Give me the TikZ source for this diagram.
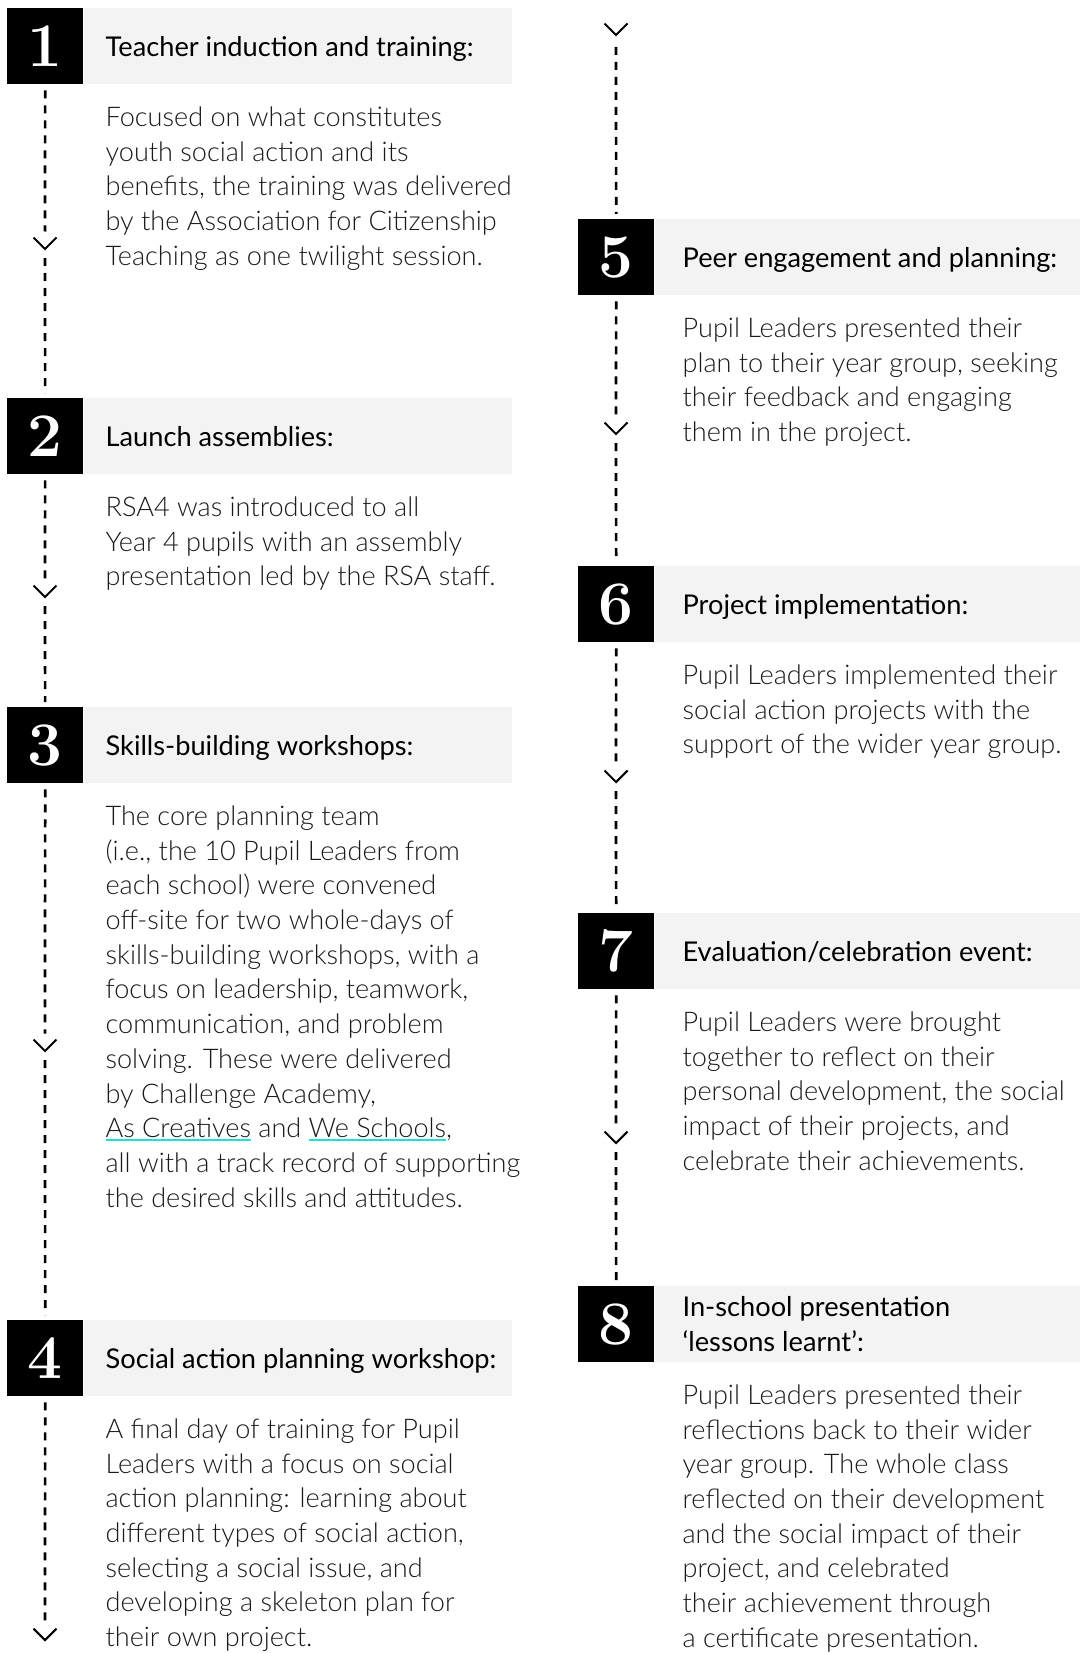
\documentclass[tikz,border=0pt]{standalone}
\usepackage{fontspec}
\IfFontExistsTF{Lato Light}{\newfontfamily\bodyfamily{Lato Light}}{\newfontfamily\bodyfamily{Lato}}
\newfontfamily\headfamily{Lato}
\newfontfamily\numfamily{Latin Modern Roman}
\definecolor{bandgray}{RGB}{243,243,243}
\definecolor{linkcyan}{RGB}{24,228,214}
\definecolor{ink}{RGB}{26,26,26}

% size each face so that a sample line runs to the intended width
\newlength\probewd
\settowidth\probewd{\bodyfamily\fontsize{10pt}{12pt}\selectfont benefits, the training was delivered}
\pgfmathsetmacro\bodysize{4060/\probewd}
\settowidth\probewd{\headfamily\fontsize{10pt}{12pt}\selectfont Teacher induction and training:}
\pgfmathsetmacro\headsize{3680/\probewd}

% organisation names with a coloured underline
\newcommand\weblink[1]{\begingroup\setbox0\hbox{#1}\rlap{\color{linkcyan}\rule[-3.5pt]{\wd0}{2pt}}\box0\endgroup}

\begin{document}
\begin{tikzpicture}[x=1pt,y=-1pt,
  numbox/.style={fill=black, text=white, minimum width=76pt, minimum height=76pt,
    inner sep=0pt, anchor=north west, font=\numfamily\bfseries\fontsize{62pt}{62pt}\selectfont},
  band/.style={fill=bandgray, minimum height=76pt, inner sep=0pt, anchor=north west},
  leftband/.style={band, minimum width=428pt},
  rightband/.style={band, minimum width=425pt},
  head/.style={anchor=base west, inner sep=0pt, text=black,
    font=\headfamily\fontsize{\headsize pt}{35pt}\selectfont},
  body/.style={anchor=base west, inner sep=0pt, text=ink,
    font=\bodyfamily\fontsize{\bodysize pt}{34.7pt}\selectfont},
  flow/.style={line width=2.7pt, dash pattern=on 8pt off 7pt},
  chevron/.style={line width=2.1pt, line join=miter},
  chev/.pic={\draw[chevron] (-11.5,-11.5) -- (0,0) -- (11.5,-11.5);},
]
\fill[white] (0,0) rectangle (1079,1653);
\useasboundingbox (0,0) rectangle (1079,1653);

% ---------- left column ----------
\node[numbox] (n1) at (7,8) {1};
\node[leftband] (b1) at (n1.north east) {};
\node[head] (t1) at ([xshift=22pt,yshift=-10.5pt]b1.west) {Teacher induction and training:};
\node[body] (d1) at ([xshift=22pt,yshift=-42pt]b1.south west) {\parbox[t]{460pt}{%
Focused on what constitutes\\
youth social action and its\\
benefits, the training was delivered\\
by the Association for Citizenship\\
Teaching as one twilight session.}};

\node[numbox] (n2) at (7,398) {2};
\node[leftband] (b2) at (n2.north east) {};
\node[head] (t2) at ([xshift=22pt,yshift=-10.5pt]b2.west) {Launch assemblies:};
\node[body] (d2) at ([xshift=22pt,yshift=-42pt]b2.south west) {\parbox[t]{460pt}{%
RSA4 was introduced to all\\
Year 4 pupils with an assembly\\
presentation led by the RSA staff.}};

\node[numbox] (n3) at (7,707) {3};
\node[leftband] (b3) at (n3.north east) {};
\node[head] (t3) at ([xshift=22pt,yshift=-10.5pt]b3.west) {Skills-building workshops:};
\node[body] (d3) at ([xshift=22pt,yshift=-42pt]b3.south west) {\parbox[t]{460pt}{%
The core planning team\\
(i.e., the 10 Pupil Leaders from\\
each school) were convened\\
off-site for two whole-days of\\
skills-building workshops, with a\\
focus on leadership, teamwork,\\
communication, and problem\\
solving. These were delivered\\
by Challenge Academy,\\
\weblink{As Creatives} and \weblink{We Schools},\\
all with a track record of supporting\\
the desired skills and attitudes.}};

\node[numbox] (n4) at (7,1320) {4};
\node[leftband] (b4) at (n4.north east) {};
\node[head] (t4) at ([xshift=22pt,yshift=-10.5pt]b4.west) {Social action planning workshop:};
\node[body] (d4) at ([xshift=22pt,yshift=-42pt]b4.south west) {\parbox[t]{460pt}{%
A final day of training for Pupil\\
Leaders with a focus on social\\
action planning: learning about\\
different types of social action,\\
selecting a social issue, and\\
developing a skeleton plan for\\
their own project.}};

% ---------- right column ----------
\node[numbox] (n5) at (578,219) {5};
\node[rightband] (b5) at (n5.north east) {};
\node[head] (t5) at ([xshift=28pt,yshift=-10.5pt]b5.west) {Peer engagement and planning:};
\node[body] (d5) at ([xshift=28pt,yshift=-42pt]b5.south west) {\parbox[t]{460pt}{%
Pupil Leaders presented their\\
plan to their year group, seeking\\
their feedback and engaging\\
them in the project.}};

\node[numbox] (n6) at (578,566) {6};
\node[rightband] (b6) at (n6.north east) {};
\node[head] (t6) at ([xshift=28pt,yshift=-10.5pt]b6.west) {Project implementation:};
\node[body] (d6) at ([xshift=28pt,yshift=-42pt]b6.south west) {\parbox[t]{460pt}{%
Pupil Leaders implemented their\\
social action projects with the\\
support of the wider year group.}};

\node[numbox] (n7) at (578,913) {7};
\node[rightband] (b7) at (n7.north east) {};
\node[head] (t7) at ([xshift=28pt,yshift=-10.5pt]b7.west) {Evaluation/celebration event:};
\node[body] (d7) at ([xshift=28pt,yshift=-42pt]b7.south west) {\parbox[t]{460pt}{%
Pupil Leaders were brought\\
together to reflect on their\\
personal development, the social\\
impact of their projects, and\\
celebrate their achievements.}};

\node[numbox] (n8) at (578,1286) {8};
\node[rightband] (b8) at (n8.north east) {};
\node[head] (t8) at ([xshift=28pt,yshift=8pt]b8.west) {\parbox[t]{400pt}{%
In-school presentation\\
‘lessons learnt’:}};
\node[body] (d8) at ([xshift=28pt,yshift=-42pt]b8.south west) {\parbox[t]{460pt}{%
Pupil Leaders presented their\\
reflections back to their wider\\
year group. The whole class\\
reflected on their development\\
and the social impact of their\\
project, and celebrated\\
their achievement through\\
a certificate presentation.}};

% ---------- chevrons on the time lines ----------
\coordinate (k1) at (45,249);
\coordinate (k2) at (45,597);
\coordinate (k3) at (45,1051);
\coordinate (k4) at (45,1640);
\coordinate (k0) at (616,35);
\coordinate (k5) at (616,434);
\coordinate (k6) at (616,782);
\coordinate (k7) at (616,1143);
\foreach \k in {k0,k1,k2,k3,k4,k5,k6,k7} \pic at (\k) {chev};

% ---------- dashed time lines ----------
\draw[flow, shorten <=6pt, shorten >=17.5pt] (n1) -- (k1);
\draw[flow, shorten <=9pt, shorten >=5pt] (k1) -- (n2);
\draw[flow, shorten <=6pt, shorten >=17.5pt] (n2) -- (k2);
\draw[flow, shorten <=9pt, shorten >=5pt] (k2) -- (n3);
\draw[flow, shorten <=6pt, shorten >=17.5pt] (n3) -- (k3);
\draw[flow, shorten <=9pt, shorten >=5pt] (k3) -- (n4);
\draw[flow, shorten <=6pt, shorten >=17.5pt] (n4) -- (k4);

\draw[flow, shorten <=12pt, shorten >=5pt] (k0) -- (n5);
\draw[flow, shorten <=6pt, shorten >=17.5pt] (n5) -- (k5);
\draw[flow, shorten <=9pt, shorten >=5pt] (k5) -- (n6);
\draw[flow, shorten <=6pt, shorten >=17.5pt] (n6) -- (k6);
\draw[flow, shorten <=9pt, shorten >=5pt] (k6) -- (n7);
\draw[flow, shorten <=6pt, shorten >=17.5pt] (n7) -- (k7);
\draw[flow, shorten <=9pt, shorten >=5pt] (k7) -- (n8);
\end{tikzpicture}
\end{document}
